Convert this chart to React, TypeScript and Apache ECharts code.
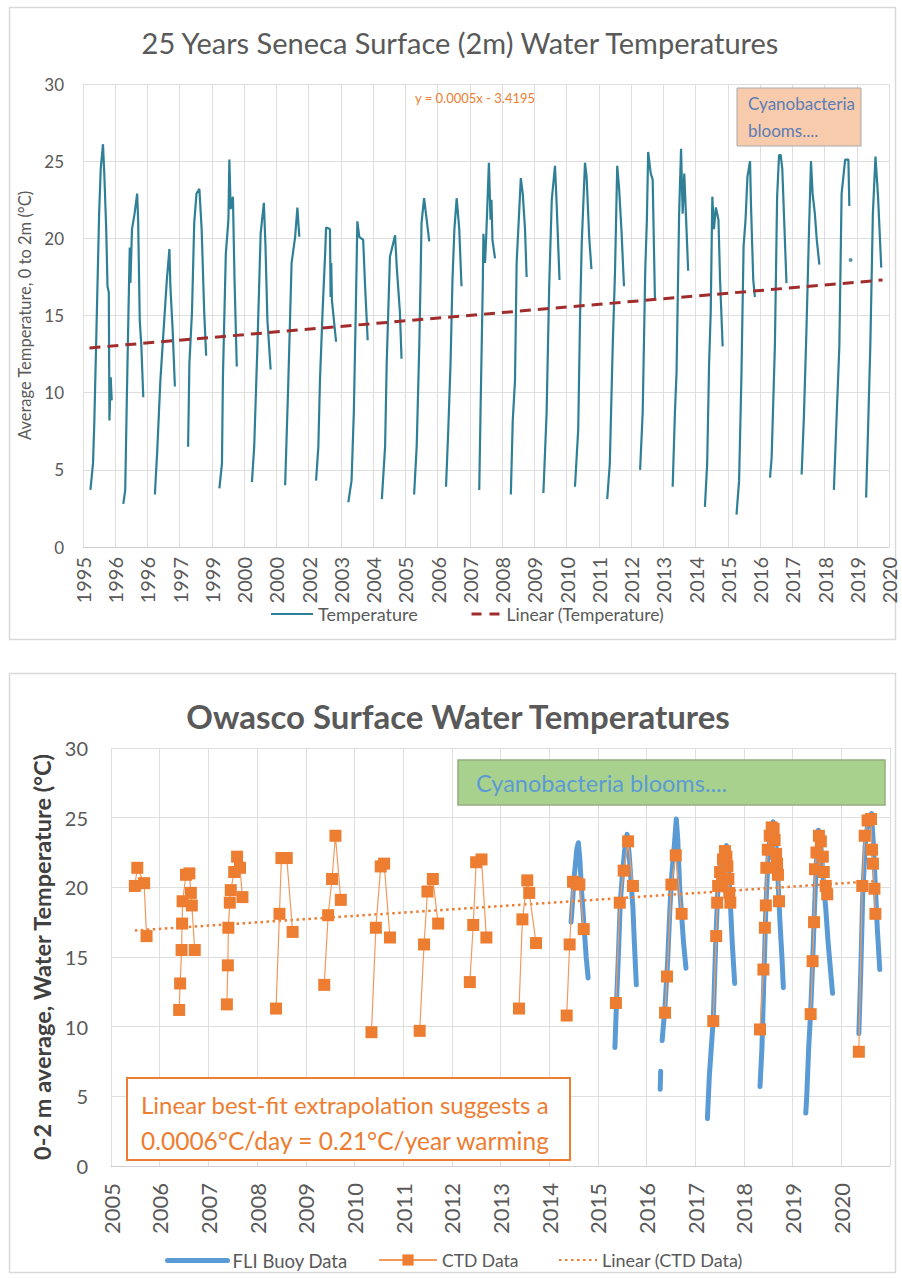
import React, { useEffect, useRef } from "react";
import * as echarts from "echarts";

// ---------- Top chart (Seneca) ----------
const TOP_X_LABELS = [
  "1995", "1996", "1996", "1997", "1999", "2000", "2000", "2002", "2003", "2004", "2005", "2006", "2007",
  "2008", "2009", "2010", "2011", "2012", "2013", "2014", "2015", "2016", "2017", "2018", "2019", "2020",
];

// x = years since first axis tick, y = average temperature 0-2 m (°C)
const senecaCycles: number[][][] = [
  [[0.23, 3.7], [0.31, 5.4], [0.35, 8.0], [0.43, 15.2], [0.5, 21.6], [0.55, 24.5], [0.62, 26.1], [0.66, 24.2], [0.72, 20.6], [0.76, 16.9], [0.8, 16.5], [0.82, 8.2], [0.86, 11.0], [0.89, 9.5]],
  [[1.25, 2.8], [1.31, 3.7], [1.36, 9.7], [1.41, 15.2], [1.45, 19.4], [1.47, 17.1], [1.52, 20.6], [1.6, 21.6], [1.68, 22.9], [1.71, 21.2], [1.76, 14.7], [1.81, 13.0], [1.87, 9.7]],
  [[2.23, 3.4], [2.27, 5.0], [2.3, 6.1], [2.4, 10.8], [2.52, 14.7], [2.6, 17.3], [2.68, 19.3], [2.71, 16.9], [2.78, 14.1], [2.85, 10.4]],
  [[3.26, 6.5], [3.3, 11.9], [3.38, 15.2], [3.45, 21.0], [3.52, 22.9], [3.61, 23.2], [3.68, 20.6], [3.76, 15.2], [3.82, 12.4]],
  [[4.23, 3.8], [4.31, 5.4], [4.34, 11.0], [4.43, 19.0], [4.51, 21.2], [4.54, 25.1], [4.58, 21.9], [4.65, 22.7], [4.7, 17.3], [4.77, 11.7]],
  [[5.24, 4.2], [5.31, 6.5], [5.41, 13.0], [5.51, 20.3], [5.61, 22.3], [5.66, 19.5], [5.72, 14.7], [5.82, 11.5]],
  [[6.27, 4.0], [6.37, 10.8], [6.47, 18.4], [6.58, 20.1], [6.65, 22.0], [6.68, 21.0], [6.71, 20.1]],
  [[7.23, 4.3], [7.3, 6.5], [7.35, 10.8], [7.43, 15.2], [7.51, 19.0], [7.54, 20.7], [7.66, 20.6], [7.68, 16.2], [7.7, 18.4], [7.72, 16.0], [7.85, 13.3]],
  [[8.23, 2.9], [8.33, 4.3], [8.4, 8.7], [8.46, 15.2], [8.51, 21.1], [8.57, 20.1], [8.69, 19.9], [8.75, 16.9], [8.83, 13.4]],
  [[9.27, 3.1], [9.37, 6.5], [9.42, 11.9], [9.52, 18.8], [9.68, 20.2], [9.73, 18.2], [9.83, 15.2], [9.88, 12.2]],
  [[10.27, 3.4], [10.35, 6.5], [10.43, 13.0], [10.47, 17.3], [10.5, 21.0], [10.58, 22.6], [10.66, 21.2], [10.74, 19.8]],
  [[11.26, 3.9], [11.33, 7.6], [11.4, 11.9], [11.46, 17.3], [11.52, 20.6], [11.59, 22.6], [11.67, 20.6], [11.74, 16.9]],
  [[12.29, 3.7], [12.33, 8.7], [12.4, 17.0], [12.42, 20.3], [12.47, 18.4], [12.51, 20.3], [12.59, 24.9], [12.64, 21.2], [12.67, 22.5], [12.7, 19.9], [12.78, 18.7]],
  [[13.27, 3.4], [13.33, 8.2], [13.4, 10.8], [13.45, 18.4], [13.58, 23.9], [13.64, 22.9], [13.71, 20.6], [13.76, 17.5]],
  [[14.28, 3.5], [14.38, 8.7], [14.46, 16.9], [14.54, 22.5], [14.64, 24.7], [14.69, 22.3], [14.78, 17.3]],
  [[15.26, 3.9], [15.36, 7.6], [15.42, 15.2], [15.47, 19.7], [15.57, 24.9], [15.62, 24.0], [15.7, 20.1], [15.77, 18.0]],
  [[16.26, 3.1], [16.34, 5.4], [16.43, 13.0], [16.5, 17.7], [16.57, 24.7], [16.63, 23.2], [16.7, 20.6], [16.78, 16.9]],
  [[17.28, 5.0], [17.36, 8.7], [17.44, 18.0], [17.49, 21.2], [17.53, 25.6], [17.61, 24.2], [17.67, 23.8], [17.74, 16.0]],
  [[18.29, 3.9], [18.36, 8.7], [18.41, 11.3], [18.49, 21.6], [18.55, 25.8], [18.6, 21.6], [18.65, 24.2], [18.7, 21.6], [18.77, 17.9]],
  [[19.29, 2.6], [19.36, 5.4], [19.42, 11.9], [19.47, 15.2], [19.52, 22.7], [19.57, 20.6], [19.63, 22.0], [19.71, 21.2], [19.76, 17.3], [19.84, 13.0]],
  [[20.27, 2.1], [20.35, 4.3], [20.42, 10.8], [20.49, 19.5], [20.55, 21.2], [20.61, 24.0], [20.69, 25.0], [20.72, 22.1], [20.79, 17.3], [20.84, 16.2]],
  [[21.31, 4.5], [21.36, 5.8], [21.46, 13.0], [21.53, 22.7], [21.59, 25.4], [21.64, 25.4], [21.69, 24.5], [21.82, 17.1]],
  [[22.29, 4.7], [22.36, 8.4], [22.44, 14.1], [22.52, 20.6], [22.58, 25.0], [22.63, 22.9], [22.7, 21.6], [22.76, 19.9], [22.84, 18.3]],
  [[23.29, 3.7], [23.38, 8.7], [23.46, 13.0], [23.53, 22.9], [23.64, 25.1], [23.74, 25.1], [23.77, 22.1]],
  [[24.29, 3.2], [24.35, 7.6], [24.42, 13.0], [24.5, 21.6], [24.58, 25.3], [24.66, 22.7], [24.76, 18.1]],
];
const senecaIsolated = [[23.81, 18.6]];
const senecaTrend = [[0.2, 12.9], [24.8, 17.3]];

// ---------- Bottom chart (Owasco) ----------
const BOTTOM_X_LABELS = [
  "2005", "2006", "2007", "2008", "2009", "2010", "2011", "2012", "2013", "2014", "2015", "2016", "2017", "2018", "2019", "2020",
];

const buoyYears: number[][][] = [
  [[2014.45, 17.5], [2014.52, 21.0], [2014.57, 22.8], [2014.6, 23.2], [2014.63, 22.0], [2014.67, 19.5], [2014.72, 17.0], [2014.76, 15.0], [2014.8, 13.5]],
  [[2015.35, 8.5], [2015.38, 11.5], [2015.42, 15.0], [2015.46, 18.9], [2015.51, 21.2], [2015.56, 23.0], [2015.6, 23.8], [2015.64, 22.5], [2015.68, 20.5], [2015.72, 18.5], [2015.75, 16.0], [2015.79, 13.0]],
  [[2016.28, 5.5], [2016.29, 6.8]],
  [[2016.32, 9.0], [2016.38, 11.5], [2016.43, 14.5], [2016.48, 18.5], [2016.52, 21.0], [2016.57, 23.0], [2016.61, 24.9], [2016.64, 23.5], [2016.68, 20.0], [2016.72, 18.0], [2016.76, 16.0], [2016.81, 14.2]],
  [[2017.25, 3.4], [2017.29, 6.5], [2017.33, 8.5], [2017.37, 10.5], [2017.42, 16.0], [2017.46, 19.5], [2017.52, 21.5], [2017.58, 22.5], [2017.64, 23.0], [2017.68, 21.5], [2017.72, 19.0], [2017.76, 16.0], [2017.81, 13.1]],
  [[2018.33, 5.7], [2018.37, 8.5], [2018.41, 13.5], [2018.45, 18.5], [2018.5, 22.5], [2018.55, 24.0], [2018.6, 24.7], [2018.65, 23.5], [2018.7, 20.5], [2018.74, 17.5], [2018.78, 15.0], [2018.81, 12.8]],
  [[2019.27, 3.8], [2019.29, 5.0], [2019.33, 8.5], [2019.37, 11.0], [2019.41, 14.5], [2019.45, 18.5], [2019.49, 22.0], [2019.53, 24.1], [2019.58, 23.0], [2019.63, 20.5], [2019.68, 18.5], [2019.73, 16.0], [2019.78, 14.0], [2019.82, 12.4]],
  [[2020.36, 9.5], [2020.4, 14.0], [2020.44, 19.5], [2020.49, 23.0], [2020.55, 24.8], [2020.62, 25.3], [2020.66, 23.0], [2020.7, 20.0], [2020.74, 17.0], [2020.79, 14.1]],
];

const ctdYears: number[][][] = [
  [[2005.49, 20.1], [2005.54, 21.4], [2005.68, 20.3], [2005.73, 16.5]],
  [[2006.4, 11.2], [2006.42, 13.1], [2006.45, 15.5], [2006.46, 17.4], [2006.47, 19.0], [2006.54, 20.9], [2006.61, 21.0], [2006.64, 19.6], [2006.66, 18.7], [2006.72, 15.5]],
  [[2007.38, 11.6], [2007.4, 14.4], [2007.41, 17.1], [2007.44, 18.9], [2007.46, 19.8], [2007.53, 21.1], [2007.59, 22.2], [2007.65, 21.4], [2007.7, 19.3]],
  [[2008.39, 11.3], [2008.46, 18.1], [2008.5, 22.1], [2008.61, 22.1], [2008.73, 16.8]],
  [[2009.38, 13.0], [2009.46, 18.0], [2009.54, 20.6], [2009.61, 23.7], [2009.72, 19.1]],
  [[2010.35, 9.6], [2010.44, 17.1], [2010.54, 21.5], [2010.61, 21.7], [2010.73, 16.4]],
  [[2011.34, 9.7], [2011.43, 15.9], [2011.5, 19.7], [2011.61, 20.6], [2011.72, 17.4]],
  [[2012.37, 13.2], [2012.44, 17.3], [2012.5, 21.8], [2012.61, 22.0], [2012.71, 16.4]],
  [[2013.38, 11.3], [2013.45, 17.7], [2013.55, 20.5], [2013.59, 19.6], [2013.73, 16.0]],
  [[2014.36, 10.8], [2014.42, 15.9], [2014.49, 20.4], [2014.56, 20.3], [2014.62, 20.2], [2014.71, 17.0]],
  [[2015.37, 11.7], [2015.45, 18.9], [2015.53, 21.2], [2015.62, 23.3], [2015.72, 20.1]],
  [[2016.38, 11.0], [2016.42, 13.6], [2016.51, 20.2], [2016.6, 22.3], [2016.72, 18.1]],
  [[2017.37, 10.4], [2017.43, 16.5], [2017.45, 18.9], [2017.47, 20.1], [2017.51, 21.1], [2017.55, 20.4], [2017.57, 22.0], [2017.61, 22.6], [2017.64, 22.2], [2017.66, 21.5], [2017.68, 20.6], [2017.7, 19.6], [2017.72, 18.9]],
  [[2018.33, 9.8], [2018.4, 14.1], [2018.43, 17.1], [2018.45, 18.7], [2018.46, 21.4], [2018.49, 22.7], [2018.53, 23.7], [2018.57, 24.3], [2018.61, 24.2], [2018.63, 23.4], [2018.66, 22.4], [2018.68, 21.7], [2018.7, 20.9], [2018.72, 19.0]],
  [[2019.37, 10.9], [2019.41, 14.7], [2019.44, 17.5], [2019.46, 21.3], [2019.49, 22.5], [2019.54, 23.7], [2019.58, 23.3], [2019.62, 22.2], [2019.64, 21.1], [2019.68, 20.1], [2019.71, 19.5]],
  [[2020.36, 8.2], [2020.43, 20.1], [2020.48, 23.7], [2020.54, 24.8], [2020.61, 24.9], [2020.63, 22.7], [2020.65, 21.7], [2020.68, 19.9], [2020.7, 18.1]],
];
const ctdTrend = [[2005.49, 16.9], [2020.7, 20.45]];

// join segments with a gap item so the line breaks between seasons
function joinSegments(segs: number[][][]) {
  const out: any[] = [];
  segs.forEach((s, i) => {
    if (i > 0) out.push([s[0][0], null]);
    s.forEach((p) => out.push(p));
  });
  return out;
}

const FONT = "Lato";
const GREY = "#595959";
const GRID_LINE = "#dedede";

const lineOnlyLegend = (name: string, left: number, top: number, w: number, fs: number, extra: any = {}) => ({
  data: [name], left, top, itemWidth: w, itemHeight: 14, padding: 0,
  itemStyle: { opacity: 0 },
  textStyle: { fontSize: fs, color: GREY, fontFamily: FONT },
  ...extra,
});

export default function App() {
  const ref = useRef<HTMLDivElement>(null);
  useEffect(() => {
    const chart = echarts.init(ref.current!, null, { renderer: "svg" });
    const option: any = {
      animation: false,
      backgroundColor: "#ffffff",
      textStyle: { fontFamily: FONT },
      grid: [
        { left: 83, top: 84, width: 806, height: 463 },
        { left: 111, top: 748, width: 779, height: 418 },
      ],
      xAxis: [
        {
          gridIndex: 0, type: "value", min: 0, max: 25, interval: 1,
          axisLine: { show: true, lineStyle: { color: "#d0d0d0" } },
          axisTick: { show: false },
          splitLine: { show: true, lineStyle: { color: GRID_LINE } },
          axisLabel: {
            rotate: 90, margin: 10, fontSize: 20, color: GREY, fontFamily: FONT,
            formatter: (v: number) => TOP_X_LABELS[Math.round(v)] ?? "",
          },
        },
        {
          gridIndex: 1, type: "value", min: 2005, max: 2021, interval: 1,
          axisLine: { show: true, lineStyle: { color: "#d0d0d0" } },
          axisTick: { show: false },
          splitLine: { show: true, lineStyle: { color: GRID_LINE } },
          axisLabel: {
            rotate: 90, margin: 17, fontSize: 22, color: GREY, fontFamily: FONT,
            formatter: (v: number) => BOTTOM_X_LABELS[Math.round(v) - 2005] ?? "",
          },
        },
      ],
      yAxis: [
        {
          gridIndex: 0, type: "value", min: 0, max: 30, interval: 5,
          name: "Average Temperature, 0 to 2m (°C)", nameLocation: "middle", nameGap: 49,
          nameTextStyle: { fontSize: 16.5, color: GREY, fontFamily: FONT },
          axisLine: { show: false }, axisTick: { show: false },
          splitLine: { show: true, lineStyle: { color: GRID_LINE } },
          axisLabel: { fontSize: 17, color: GREY, margin: 19, fontFamily: FONT },
        },
        {
          gridIndex: 1, type: "value", min: 0, max: 30, interval: 5,
          name: "0-2 m average, Water Temperature (°C)", nameLocation: "middle", nameGap: 53,
          nameTextStyle: { fontSize: 23.5, fontWeight: "bold", color: "#404040", fontFamily: FONT },
          axisLine: { show: false }, axisTick: { show: false },
          splitLine: { show: true, lineStyle: { color: GRID_LINE } },
          axisLabel: { fontSize: 20, color: GREY, margin: 23, fontFamily: FONT },
        },
      ],
      legend: [
        lineOnlyLegend("Temperature", 270, 605, 42, 18),
        lineOnlyLegend("Linear (Temperature)", 470, 605, 30, 17.5, { lineStyle: { type: [10, 8], width: 3 } }),
        lineOnlyLegend("FLI Buoy Data", 165, 1251, 60, 18.5, { lineStyle: { width: 5, cap: "round" } }),
        {
          data: ["CTD Data"], left: 378, top: 1251, itemWidth: 58, itemHeight: 14, padding: 0,
          textStyle: { fontSize: 17.5, color: GREY, fontFamily: FONT },
        },
        lineOnlyLegend("Linear (CTD Data)", 558, 1251, 38, 18),
      ],
      series: [
        {
          name: "Temperature", type: "line", xAxisIndex: 0, yAxisIndex: 0,
          data: joinSegments(senecaCycles), symbol: "none", showSymbol: false, connectNulls: false,
          lineStyle: { color: "#2f8096", width: 2.2 }, itemStyle: { color: "#2f8096" }, z: 2,
        },
        {
          name: "Temperature point", type: "scatter", xAxisIndex: 0, yAxisIndex: 0,
          data: senecaIsolated, symbolSize: 4, itemStyle: { color: "#2f8096" }, z: 2,
        },
        {
          name: "Linear (Temperature)", type: "line", xAxisIndex: 0, yAxisIndex: 0,
          data: senecaTrend, symbol: "none", showSymbol: false,
          lineStyle: { color: "#a02c2c", width: 3, type: [11, 7] }, itemStyle: { color: "#a02c2c" }, z: 3,
        },
        {
          name: "FLI Buoy Data", type: "line", xAxisIndex: 1, yAxisIndex: 1,
          data: joinSegments(buoyYears), symbol: "none", showSymbol: false, connectNulls: false,
          lineStyle: { color: "#5b9bd5", width: 5, cap: "round", join: "round" }, itemStyle: { color: "#5b9bd5" }, z: 2,
        },
        {
          name: "Linear (CTD Data)", type: "line", xAxisIndex: 1, yAxisIndex: 1,
          data: ctdTrend, symbol: "none", showSymbol: false,
          lineStyle: { color: "#ed7d31", width: 2.5, type: [2.5, 3.5] }, itemStyle: { color: "#ed7d31" }, z: 3,
        },
        {
          name: "CTD Data", type: "line", xAxisIndex: 1, yAxisIndex: 1,
          data: joinSegments(ctdYears), symbol: "rect", symbolSize: 12, showSymbol: true, connectNulls: false,
          lineStyle: { color: "#f09a5e", width: 1.2 }, itemStyle: { color: "#ed7d31" }, z: 4,
        },
      ],
      graphic: [
        { type: "rect", shape: { x: 9.5, y: 7.5, width: 886, height: 632 }, style: { fill: "none", stroke: "#d9d9d9", lineWidth: 1.5 }, z: 0 },
        { type: "rect", shape: { x: 9.5, y: 673.5, width: 886, height: 599 }, style: { fill: "none", stroke: "#d9d9d9", lineWidth: 1.5 }, z: 0 },
        { type: "text", x: 460, y: 42, style: { text: "25 Years Seneca Surface (2m) Water Temperatures", fontSize: 29, fontFamily: FONT, fill: GREY, align: "center", verticalAlign: "middle" }, z: 100 },
        { type: "text", x: 475, y: 98, style: { text: "y = 0.0005x - 3.4195", fontSize: 13, fontFamily: FONT, fill: "#ed7d31", align: "center", verticalAlign: "middle" }, z: 100 },
        { type: "rect", shape: { x: 737, y: 88, width: 124, height: 58 }, style: { fill: "#f8cbad", stroke: "#a9a9a9", lineWidth: 1 }, z: 100 },
        { type: "text", x: 748, y: 117, style: { text: "Cyanobacteria\nblooms....", fontSize: 17, lineHeight: 27, fontFamily: FONT, fill: "#5a7db5", align: "left", verticalAlign: "middle" }, z: 101 },
        { type: "text", x: 458, y: 716, style: { text: "Owasco Surface Water Temperatures", fontSize: 33, fontWeight: "bold", fontFamily: FONT, fill: GREY, align: "center", verticalAlign: "middle" }, z: 100 },
        { type: "rect", shape: { x: 458, y: 760, width: 427, height: 45 }, style: { fill: "#a9d18e", stroke: "#94ad80", lineWidth: 1.5 }, z: 100 },
        { type: "text", x: 476, y: 783, style: { text: "Cyanobacteria blooms....", fontSize: 23.5, fontFamily: FONT, fill: "#5b9bd5", align: "left", verticalAlign: "middle" }, z: 101 },
        { type: "rect", shape: { x: 127, y: 1078, width: 443, height: 82 }, style: { fill: "#ffffff", stroke: "#ed7d31", lineWidth: 2 }, z: 100 },
        { type: "text", x: 141, y: 1104, style: { text: "Linear best-fit extrapolation suggests a", fontSize: 24, fontFamily: FONT, fill: "#ed7d31", align: "left", verticalAlign: "middle" }, z: 101 },
        { type: "text", x: 141, y: 1140, style: { text: "0.0006°C/day = 0.21°C/year warming", fontSize: 24.5, fontFamily: FONT, fill: "#ed7d31", align: "left", verticalAlign: "middle" }, z: 101 },
      ],
    };
    chart.setOption(option);
    return () => chart.dispose();
  }, []);
  return (
    <div
      ref={ref}
      style={{ position: "absolute", left: 0, top: 0, width: 902, height: 1279, background: "#ffffff" }}
    />
  );
}
